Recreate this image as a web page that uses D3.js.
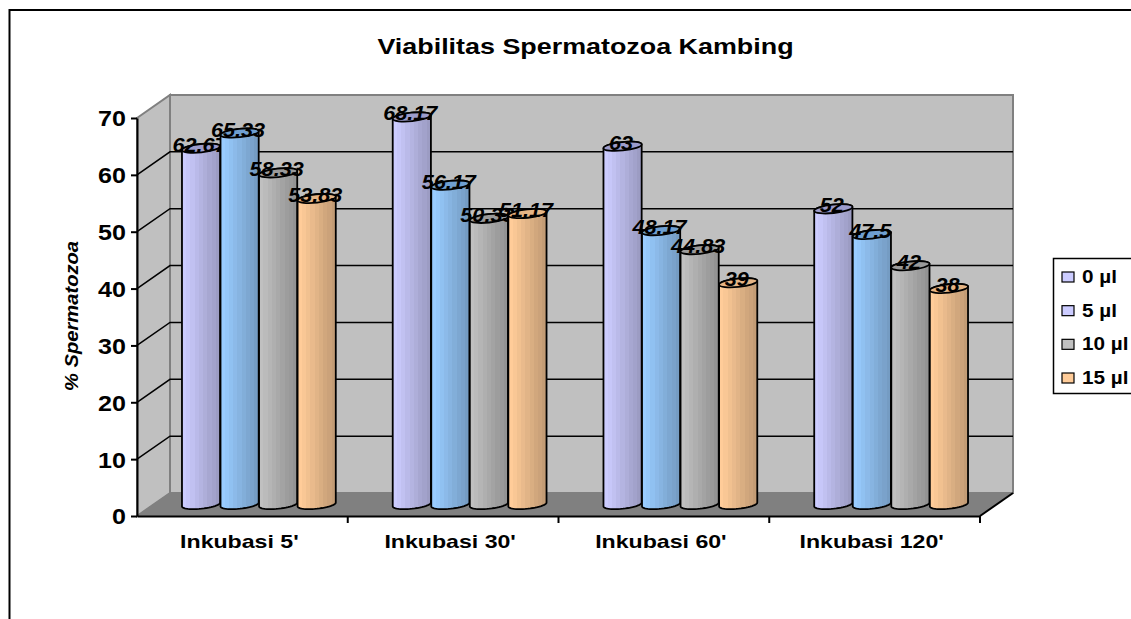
<!DOCTYPE html>
<html>
<head>
<meta charset="utf-8">
<script src="https://cdn.jsdelivr.net/npm/d3@7"></script>
<style>
  html, body { margin: 0; padding: 0; background: #fff; overflow: hidden; }
  svg { display: block; }
  text { font-family: "Liberation Sans", Arial, sans-serif; font-weight: bold; fill: #000; }
</style>
</head>
<body>
<script>
const categories = ["Inkubasi 5'", "Inkubasi 30'", "Inkubasi 60'", "Inkubasi 120'"];
const seriesNames = ["0 µl", "5 µl", "10 µl", "15 µl"];
const values0 = [62.67, 68.17, 63, 52];
const values5 = [65.33, 56.17, 48.17, 47.5];
const values10 = [58.33, 50.33, 44.83, 42];
const values15 = [53.83, 51.17, 39, 38];
const yTicks = [0, 10, 20, 30, 40, 50, 60, 70];

const barColors = ["#ccccff", "#99ccff", "#c0c0c0", "#ffcc99"];
const topColors = ["#9c9ccc", "#6f9fd0", "#9a9a9a", "#e6b585"];
const legendColors = ["#ccccff", "#ccccff", "#c0c0c0", "#ffcc99"];

const allSeries = [values0, values5, values10, values15];

const width = 1131, height = 619;
const depthX = 33, depthY = 23;   // desplazamiento de la pared del fondo
const rx = 19.2, ry = 4.2, tilt = -6;

const svg = d3.select('body').append('svg')
    .attr('width', width)
    .attr('height', height);

// el original esta estirado a lo ancho, asi que estiramos el texto igual
function stretch(sel, size, factor) {
    sel.style('font-size', size + 'px')
       .each(function () {
           d3.select(this)
             .attr('textLength', this.getComputedTextLength() * factor)
             .attr('lengthAdjust', 'spacingAndGlyphs');
       });
}

// escalas
const x = d3.scaleBand().domain(categories).range([137, 980]);
const s = d3.scaleBand().domain(d3.range(4)).range([28.3, x.bandwidth() - 28.3]);
const y = d3.scaleLinear().domain([0, 70]).range([516, 118]);

// gradientes por bandas, como el cilindro original
const defs = svg.append('defs');
const shade = [0, .04, .09, .14, .19, .24, .29, .33, .38];
barColors.forEach((c, i) => {
    const g = defs.append('linearGradient').attr('id', 'bar' + i);
    const n = shade.length;
    shade.forEach((k, j) => {
        const col = d3.interpolateRgb(c, '#000')(k * .62);
        g.append('stop').attr('offset', j / n).attr('stop-color', col);
        g.append('stop').attr('offset', (j + 1) / n).attr('stop-color', col);
    });
});

// marco exterior
svg.append('path')
    .attr('d', `M9.5,${height}V10H${width}`)
    .attr('fill', 'none')
    .attr('stroke', '#000')
    .attr('stroke-width', 2);

const left = x.range()[0], right = x.range()[1];
const base = y(0), top70 = y(70);

// paredes y piso
svg.append('path')
    .attr('d', `M${left},${top70}L${left + depthX},${top70 - depthY}V${base - depthY}L${left},${base}Z`)
    .attr('fill', '#c0c0c0').attr('stroke', '#808080').attr('stroke-width', 2);
svg.append('rect')
    .attr('x', left + depthX).attr('y', top70 - depthY)
    .attr('width', right - left).attr('height', base - top70)
    .attr('fill', '#c0c0c0').attr('stroke', '#808080').attr('stroke-width', 2);
svg.append('path')
    .attr('d', `M${left},${base}L${left + depthX},${base - depthY}H${right + depthX}L${right},${base}Z`)
    .attr('fill', '#808080').attr('stroke', '#808080');

// rejilla
svg.append('g').selectAll('path')
    .data(yTicks.filter(d => d > 0 && d < 70))
    .enter().append('path')
    .attr('d', d => `M${left},${y(d)}L${left + depthX},${y(d) - depthY}H${right + depthX}`)
    .attr('fill', 'none').attr('stroke', '#000').attr('stroke-width', 1.5);

// ejes
const yAxis = d3.axisLeft(y).tickValues(yTicks).tickSize(6).tickSizeOuter(0).tickPadding(5);
const yG = svg.append('g').attr('transform', `translate(${left},0)`).call(yAxis);
yG.selectAll('text').attr('dy', '.36em').call(stretch, 22, 1.14);
yG.selectAll('line, path').attr('stroke', '#000').attr('stroke-width', 2);

const xAxis = d3.axisBottom(x).tickSize(0).tickSizeOuter(0);
const xG = svg.append('g').attr('transform', `translate(0,${base})`).call(xAxis);
xG.selectAll('text').attr('y', 32).attr('dy', 0).attr('x', -3).call(stretch, 18.5, 1.25);
xG.select('.domain').attr('stroke', '#000').attr('stroke-width', 2);
xG.append('g').selectAll('line')
    .data(categories.slice(1).concat(null))
    .enter().append('line')
    .attr('x1', d => d ? x(d) : right).attr('x2', d => d ? x(d) : right)
    .attr('y1', 0).attr('y2', 7)
    .attr('stroke', '#000').attr('stroke-width', 2);
svg.append('line')
    .attr('x1', right).attr('y1', base)
    .attr('x2', right + depthX).attr('y2', base - depthY)
    .attr('stroke', '#000').attr('stroke-width', 2);

// cilindros: la etiqueta de cada barra queda tapada por la barra siguiente
const rad = tilt * Math.PI / 180;
const ring = (cx, cy, a) => [
    cx + rx * Math.cos(a) * Math.cos(rad) - ry * Math.sin(a) * Math.sin(rad),
    cy + rx * Math.cos(a) * Math.sin(rad) + ry * Math.sin(a) * Math.cos(rad)
];
const line = d3.line();
const steps = d3.range(0, 25).map(i => i * Math.PI / 24);   // mitad frontal
const barsG = svg.append('g');
categories.forEach((cat, ci) => {
    allSeries.forEach((vals, si) => {
        const cx = x(cat) + s(si) + s.bandwidth() / 2 + depthX / 2;
        const by = base - depthY / 2;
        const ty = y(vals[ci]) - depthY / 2;
        const bottom = steps.map(a => ring(cx, by, a));
        const topBack = steps.map(a => ring(cx, ty, a + Math.PI));
        barsG.append('path')
            .attr('d', line(bottom.concat(topBack)) + 'Z')
            .attr('fill', `url(#bar${si})`)
            .attr('stroke', '#000').attr('stroke-width', 1.8);
        barsG.append('ellipse')
            .attr('transform', `translate(${cx},${ty}) rotate(${tilt})`)
            .attr('rx', rx).attr('ry', ry)
            .attr('fill', topColors[si])
            .attr('stroke', '#000').attr('stroke-width', 1.8);
        barsG.append('text')
            .attr('x', cx - 1.5).attr('y', ty + 3.5)
            .attr('text-anchor', 'middle')
            .style('font-style', 'italic')
            .text(vals[ci])
            .call(stretch, 20, 1.08);
    });
});

// titulos
svg.append('text')
    .attr('x', 585.5).attr('y', 54)
    .attr('text-anchor', 'middle')
    .text('Viabilitas Spermatozoa Kambing')
    .call(stretch, 21.5, 1.25);
svg.append('text')
    .attr('transform', 'translate(78,316) rotate(-90)')
    .attr('text-anchor', 'middle')
    .style('font-style', 'italic')
    .text('% Spermatozoa')
    .call(stretch, 18, 1.12);

// leyenda
const legend = svg.append('g');
legend.append('rect')
    .attr('x', 1053.5).attr('y', 258.5)
    .attr('width', 100).attr('height', 135)
    .attr('fill', '#fff').attr('stroke', '#000').attr('stroke-width', 1.5);
const ly = d3.scalePoint().domain(seriesNames).range([277, 378]);
seriesNames.forEach((n, i) => {
    legend.append('rect')
        .attr('x', 1062).attr('y', ly(n) - 5)
        .attr('width', 12).attr('height', 10)
        .attr('fill', legendColors[i])
        .attr('stroke', '#000').attr('stroke-width', 1.2);
    legend.append('text')
        .attr('x', 1082).attr('y', ly(n) + 6)
        .text(n)
        .call(stretch, 18, 1.15);
});
</script>
</body>
</html>
